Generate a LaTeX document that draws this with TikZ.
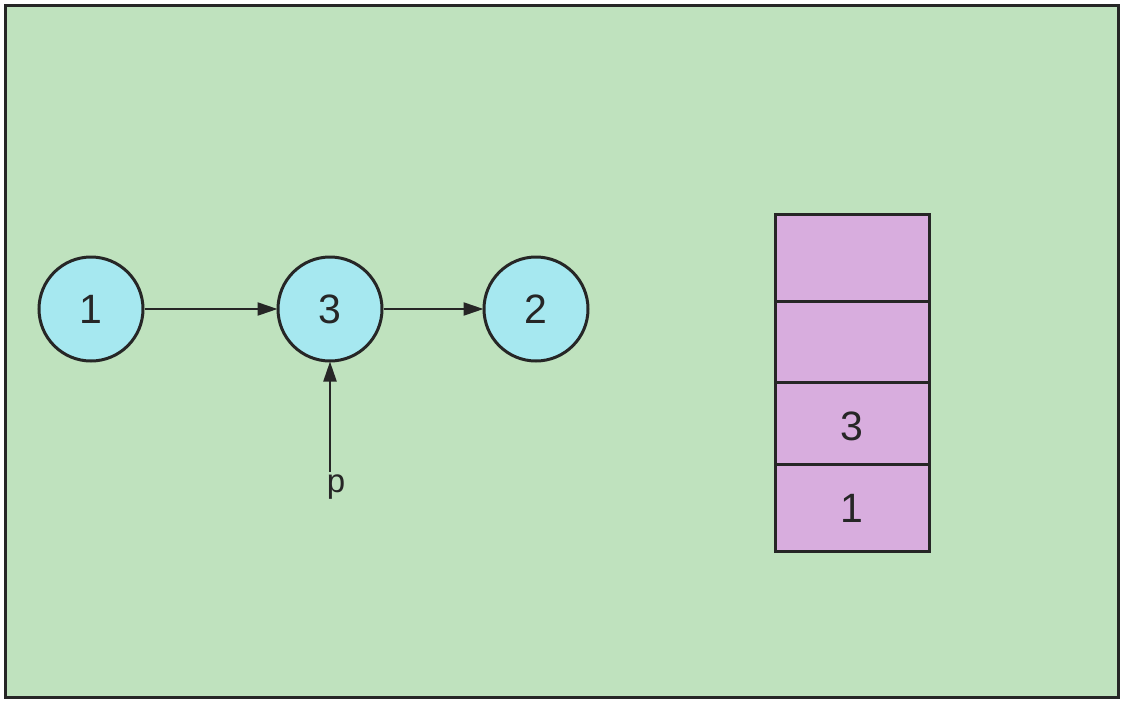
\documentclass[tikz,border=0pt]{standalone}
\usepackage{fontspec}
\setmainfont{Liberation Sans}
\usetikzlibrary{arrows.meta}
\definecolor{bggreen}{HTML}{BFE2BE}
\definecolor{nodecyan}{HTML}{A6E8F0}
\definecolor{stackpurple}{HTML}{D8ADDE}
\definecolor{ink}{HTML}{262626}
\tikzset{
  listnode/.style={circle, draw=ink, line width=3pt, fill=nodecyan, minimum size=104pt, inner sep=0pt, font=\fontsize{41}{41}\selectfont, text=ink},
  link/.style={draw=ink, line width=2.2pt, -{Triangle[length=20pt,width=13pt]}, shorten >=-1pt},
  cell/.style={draw=ink, line width=3pt, fill=stackpurple},
  celltext/.style={font=\fontsize{41}{41}\selectfont, text=ink},
}
\begin{document}
\begin{tikzpicture}[x=1pt,y=-1pt]
\useasboundingbox (0,0) rectangle (1126,702);
\fill[white] (0,0) rectangle (1126,702);
\draw[ink, line width=3pt, fill=bggreen] (5,5) rectangle (1118,697);
% linked list
\node[listnode] (n1) at (91,309) {1};
\node[listnode] (n3) at (330,309) {3};
\node[listnode] (n2) at (536,309) {2};
\draw[link] (n1) -- (n3);
\draw[link] (n3) -- (n2);
\node[font=\fontsize{33}{33}\selectfont, text=ink, anchor=base, inner sep=0pt] (p) at (336,492) {p};
\coordinate (ps) at (n3.south |- 0,472);
\draw[link] (ps) -- (n3.south);
% stack
\draw[cell] (775,214) rectangle (929,301);
\draw[cell] (775,301) rectangle (929,382);
\draw[cell] (775,382) rectangle (929,464);
\draw[cell] (775,464) rectangle (929,551);
\node[celltext] (s3) at (852,426) {3};
\node[celltext] (s1) at (852,508) {1};
\end{tikzpicture}
\end{document}
